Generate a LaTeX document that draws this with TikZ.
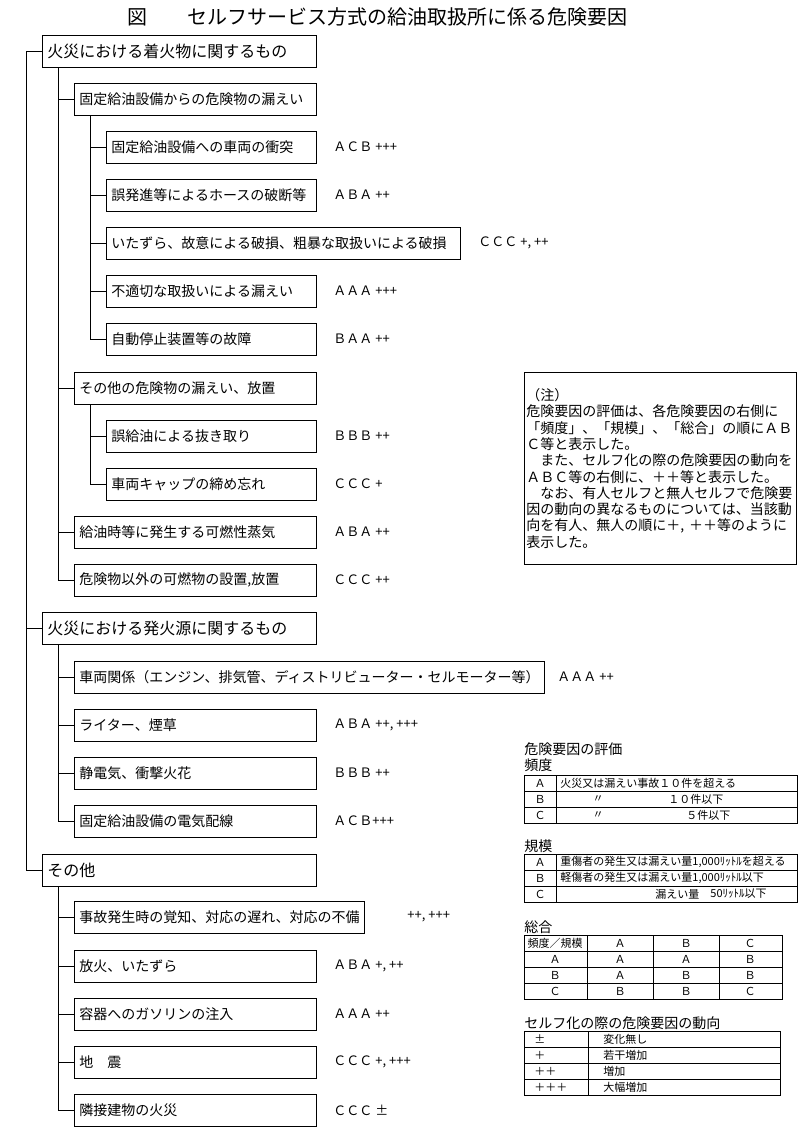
\documentclass[tikz,border=0pt]{standalone}
\usepackage{fontspec}
\setmainfont{Noto Sans CJK JP}
\begin{document}
\begin{tikzpicture}[
    x=1pt, y=-1pt,
    line width=0.9pt,
    box/.style={
        draw,
        anchor=west,
        minimum height=32pt,
        inner xsep=5pt,
        inner ysep=0pt,
        font=\fontsize{14}{14}\selectfont
    },
    cat/.style={box, text width=264pt, font=\fontsize{16}{16}\selectfont},
    item/.style={box, text width=232pt},
    sub/.style={box, text width=200pt},
    rate/.style={anchor=west, inner sep=0pt, font=\fontsize{13}{13}\selectfont},
    head/.style={anchor=west, inner sep=0pt, font=\fontsize{14}{14}\selectfont},
    cell/.style={inner sep=0pt, font=\fontsize{11}{11}\selectfont},
    lcell/.style={cell, anchor=west},
    remark/.style={
        draw,
        anchor=north west,
        text width=268pt,
        minimum height=192pt,
        inner xsep=2pt,
        align=left,
        font=\fontsize{14}{16.3}\selectfont
    }
]
    \useasboundingbox (0,0) rectangle (800,1129);

    % title
    \node[anchor=west, inner sep=0pt, font=\fontsize{20}{20}\selectfont] (title) at (127,17)
        {図　　セルフサービス方式の給油取扱所に係る危険要因};

    % spines
    \coordinate (s0) at (26,0);
    \coordinate (s1) at (58,0);
    \coordinate (s2) at (90,0);

    % ignition objects
    \node[cat] (ign) at (42,51) {火災における着火物に関するもの};
    \node[item] (leak) at (74,99) {固定給油設備からの危険物の漏えい};
    \node[sub] (crash) at (106,147) {固定給油設備への車両の衝突};
    \node[sub] (hose) at (106,195) {誤発進等によるホースの破断等};
    \node[box, text width=344pt] (damage) at (106,243) {いたずら、故意による破損、粗暴な取扱いによる破損};
    \node[sub] (misuse) at (106,291) {不適切な取扱いによる漏えい};
    \node[sub] (stopper) at (106,339) {自動停止装置等の故障};
    \node[item] (otherleak) at (74,388) {その他の危険物の漏えい、放置};
    \node[sub] (wrongfuel) at (106,436) {誤給油による抜き取り};
    \node[sub] (cap) at (106,484) {車両キャップの締め忘れ};
    \node[item] (vapor) at (74,532) {給油時等に発生する可燃性蒸気};
    \node[item] (combust) at (74,580) {危険物以外の可燃物の設置,放置};

    % ignition sources
    \node[cat] (src) at (42,628) {火災における発火源に関するもの};
    \node[box] (vehicle) at (74,677) {車両関係（エンジン、排気管、ディストリビューター・セルモーター等）};
    \node[item] (lighter) at (74,725) {ライター、煙草};
    \node[item] (spark) at (74,773) {静電気、衝撃火花};
    \node[item] (wiring) at (74,821) {固定給油設備の電気配線};

    % others
    \node[cat] (misc) at (42,870) {その他};
    \node[box] (delay) at (74,917) {事故発生時の覚知、対応の遅れ、対応の不備};
    \node[item] (arson) at (74,966) {放火、いたずら};
    \node[item] (canister) at (74,1014) {容器へのガソリンの注入};
    \node[item] (quake) at (74,1062) {地　震};
    \node[item] (nextdoor) at (74,1110) {隣接建物の火災};

    % ratings
    \node[rate] (crashR) at (333,147) {ＡＣＢ +++};
    \node[rate] (hoseR) at (333,195) {ＡＢＡ ++};
    \node[rate] (damageR) at (478,243) {ＣＣＣ +, ++};
    \node[rate] (misuseR) at (333,291) {ＡＡＡ +++};
    \node[rate] (stopperR) at (333,339) {ＢＡＡ ++};
    \node[rate] (wrongfuelR) at (333,436) {ＢＢＢ ++};
    \node[rate] (capR) at (333,484) {ＣＣＣ +};
    \node[rate] (vaporR) at (333,532) {ＡＢＡ ++};
    \node[rate] (combustR) at (333,580) {ＣＣＣ ++};
    \node[rate] (vehicleR) at (557,677) {ＡＡＡ ++};
    \node[rate] (lighterR) at (333,725) {ＡＢＡ ++, +++};
    \node[rate] (sparkR) at (333,773) {ＢＢＢ ++};
    \node[rate] (wiringR) at (333,821) {ＡＣＢ+++};
    \node[rate] (delayR) at (407,917) {++, +++};
    \node[rate] (arsonR) at (333,966) {ＡＢＡ +, ++};
    \node[rate] (canisterR) at (333,1014) {ＡＡＡ ++};
    \node[rate] (quakeR) at (333,1062) {ＣＣＣ +, +++};
    \node[rate] (nextdoorR) at (333,1110) {ＣＣＣ ±};

    % tree lines
    \draw (ign.west) -- (s0 |- ign.west) -- (s0 |- misc.west) -- (misc.west);
    \draw (s0 |- src.west) -- (src.west);

    \draw (s1 |- ign.south) -- (s1 |- combust.west) -- (combust.west);
    \draw (s1 |- leak.west) -- (leak.west);
    \draw (s1 |- otherleak.west) -- (otherleak.west);
    \draw (s1 |- vapor.west) -- (vapor.west);

    \draw (s2 |- leak.south) -- (s2 |- stopper.west) -- (stopper.west);
    \draw (s2 |- crash.west) -- (crash.west);
    \draw (s2 |- hose.west) -- (hose.west);
    \draw (s2 |- damage.west) -- (damage.west);
    \draw (s2 |- misuse.west) -- (misuse.west);

    \draw (s2 |- otherleak.south) -- (s2 |- cap.west) -- (cap.west);
    \draw (s2 |- wrongfuel.west) -- (wrongfuel.west);

    \draw (s1 |- src.south) -- (s1 |- wiring.west) -- (wiring.west);
    \draw (s1 |- vehicle.west) -- (vehicle.west);
    \draw (s1 |- lighter.west) -- (lighter.west);
    \draw (s1 |- spark.west) -- (spark.west);

    \draw (s1 |- misc.south) -- (s1 |- nextdoor.west) -- (nextdoor.west);
    \draw (s1 |- delay.west) -- (delay.west);
    \draw (s1 |- arson.west) -- (arson.west);
    \draw (s1 |- canister.west) -- (canister.west);
    \draw (s1 |- quake.west) -- (quake.west);

    % note
    \node[remark] (note) at (524,372) {%
        （注）\\
        危険要因の評価は、各危険要因の右側に\\
        「頻度」、「規模」、「総合」の順にＡＢ\\
        Ｃ等と表示した。\\
        　また、セルフ化の際の危険要因の動向を\\
        ＡＢＣ等の右側に、＋＋等と表示した。\\
        　なお、有人セルフと無人セルフで危険要\\
        因の動向の異なるものについては、当該動\\
        向を有人、無人の順に＋, ＋＋等のように\\
        表示した。};

    % frequency
    \node[head] (evalhead) at (524,749) {危険要因の評価};
    \node[head] (freqhead) at (524,765) {頻度};
    \draw (524,775) rectangle (797,823);
    \draw (524,791) -- (797,791) (524,807) -- (797,807) (556,775) -- (556,823);
    \node[cell] (freqA) at (540,783) {Ａ};
    \node[lcell] (freqAt) at (560,783) {火災又は漏えい事故１０件を超える};
    \node[cell] (freqB) at (540,799) {Ｂ};
    \node[cell] (freqBd) at (598,799) {〃};
    \node[lcell] (freqBt) at (668,799) {１０件以下};
    \node[cell] (freqC) at (540,815) {Ｃ};
    \node[cell] (freqCd) at (598,815) {〃};
    \node[lcell] (freqCt) at (686,815) {５件以下};

    % scale
    \node[head] (sizehead) at (524,846) {規模};
    \draw (524,854) rectangle (797,902);
    \draw (524,870) -- (797,870) (524,886) -- (797,886) (556,854) -- (556,902);
    \node[cell] (sizeA) at (540,862) {Ａ};
    \node[lcell] (sizeAt) at (560,862) {重傷者の発生又は漏えい量1,000ﾘｯﾄﾙを超える};
    \node[cell] (sizeB) at (540,878) {Ｂ};
    \node[lcell] (sizeBt) at (560,878) {軽傷者の発生又は漏えい量1,000ﾘｯﾄﾙ以下};
    \node[cell] (sizeC) at (540,894) {Ｃ};
    \node[lcell] (sizeCt) at (655,894) {漏えい量};
    \node[lcell] (sizeCv) at (710,894) {50ﾘｯﾄﾙ以下};

    % total
    \node[head] (totalhead) at (524,927) {総合};
    \draw (524,935) rectangle (782,999);
    \draw (524,951) -- (782,951) (524,967) -- (782,967) (524,983) -- (782,983);
    \draw (587,935) -- (587,999) (653,935) -- (653,999) (719,935) -- (719,999);
    \node[cell] (t00) at (555,943) {頻度／規模};
    \node[cell] (t01) at (620,943) {Ａ};
    \node[cell] (t02) at (686,943) {Ｂ};
    \node[cell] (t03) at (750,943) {Ｃ};
    \node[cell] (t10) at (555,959) {Ａ};
    \node[cell] (t11) at (620,959) {Ａ};
    \node[cell] (t12) at (686,959) {Ａ};
    \node[cell] (t13) at (750,959) {Ｂ};
    \node[cell] (t20) at (555,975) {Ｂ};
    \node[cell] (t21) at (620,975) {Ａ};
    \node[cell] (t22) at (686,975) {Ｂ};
    \node[cell] (t23) at (750,975) {Ｂ};
    \node[cell] (t30) at (555,991) {Ｃ};
    \node[cell] (t31) at (620,991) {Ｂ};
    \node[cell] (t32) at (686,991) {Ｂ};
    \node[cell] (t33) at (750,991) {Ｃ};

    % trend
    \node[head] (trendhead) at (524,1023) {セルフ化の際の危険要因の動向};
    \draw (524,1031) rectangle (780,1095);
    \draw (524,1047) -- (780,1047) (524,1063) -- (780,1063) (524,1079) -- (780,1079) (588,1031) -- (588,1095);
    \node[lcell] (tr0) at (534,1039) {±};
    \node[lcell] (tr0t) at (603,1039) {変化無し};
    \node[lcell] (tr1) at (534,1055) {＋};
    \node[lcell] (tr1t) at (603,1055) {若干増加};
    \node[lcell] (tr2) at (534,1071) {＋＋};
    \node[lcell] (tr2t) at (603,1071) {増加};
    \node[lcell] (tr3) at (534,1087) {＋＋＋};
    \node[lcell] (tr3t) at (603,1087) {大幅増加};

\end{tikzpicture}
\end{document}
